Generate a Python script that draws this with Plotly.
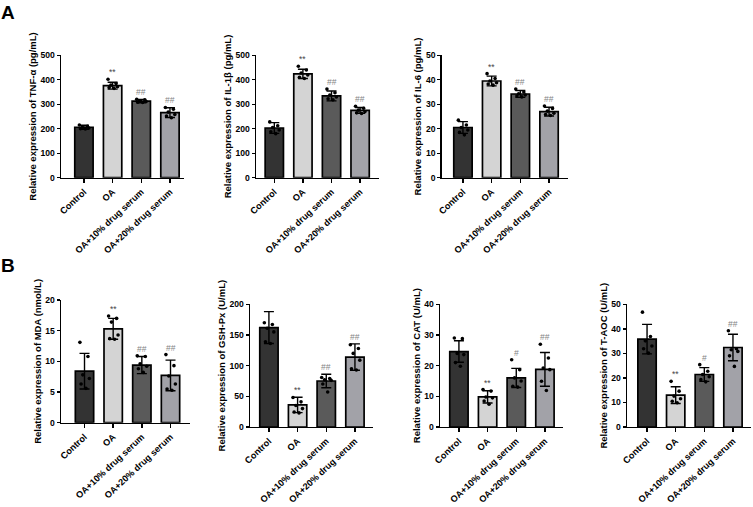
import plotly.graph_objects as go

# ---------------- data ----------------
categories = ["Control", "OA", "OA+10% drug serum", "OA+20% drug serum"]

tnf_mean = [206, 376, 313, 266]
tnf_sd = [8, 14, 7, 20]
tnf_pts = [[215, 210, 206, 203, 200, 199], [402, 385, 378, 372, 368, 365],
           [320, 318, 314, 311, 308, 307], [287, 280, 268, 258, 252, 245]]
tnf_sig = ["", "**", "##", "##"]

il1b_mean = [203, 424, 334, 275]
il1b_sd = [22, 19, 20, 12]
il1b_pts = [[228, 212, 205, 195, 188, 180], [455, 440, 428, 420, 410, 405],
            [362, 347, 338, 330, 322, 318], [292, 284, 276, 270, 265, 262]]
il1b_sig = ["", "**", "##", "##"]

il6_mean = [20.5, 39.5, 34.2, 27.0]
il6_sd = [2.4, 2.0, 1.4, 1.8]
il6_pts = [[23.5, 21.5, 20.5, 19.5, 18.5, 17.5], [42.5, 40.5, 39.5, 38.8, 38.3, 37.8],
           [36.2, 35.0, 34.3, 33.8, 33.4, 33.0], [29.3, 28.3, 27.2, 26.3, 25.8, 25.4]]
il6_sig = ["", "**", "##", "##"]

mda_mean = [8.4, 15.3, 9.4, 7.7]
mda_sd = [2.9, 1.7, 1.4, 2.5]
mda_pts = [[13.1, 10.8, 7.8, 7.2, 6.3, 5.6], [17.4, 17.0, 16.4, 14.3, 13.7, 13.6],
           [10.9, 10.8, 9.6, 9.2, 8.8, 8.2], [11.1, 9.3, 7.6, 6.3, 5.5, 5.3]]
mda_sig = ["", "**", "##", "##"]

gsh_mean = [162, 36, 75, 114]
gsh_sd = [26, 12.5, 11, 21.5]
gsh_pts = [[170, 167, 161, 155, 139, 136], [48, 41, 35, 30, 24.5, 23],
           [80.7, 79, 77, 76, 70, 57], [134, 128, 120, 109, 95, 93]]
gsh_sig = ["", "**", "##", "##"]

cat_mean = [24.6, 9.8, 16.0, 18.8]
cat_sd = [3.5, 2.0, 3.1, 5.5]
cat_pts = [[29, 28.8, 24, 23.6, 21, 19.8], [12.2, 11.7, 9.8, 9.5, 8.5, 7.4],
           [21.9, 18.7, 16, 15, 13.3, 13], [27, 22.5, 19.2, 18.7, 14.9, 11.9]]
cat_sig = ["", "**", "#", "##"]

taoc_mean = [35.8, 13.0, 21.4, 32.4]
taoc_sd = [6.0, 3.4, 2.8, 5.4]
taoc_pts = [[46.8, 36.9, 35.1, 33, 31.9, 30.1], [18.6, 14.6, 12.6, 11.5, 10.5, 9.9],
            [25.4, 22.7, 21.4, 20.5, 19.3, 18.4], [39.2, 31.9, 31.5, 30.8, 29, 24.7]]
taoc_sig = ["", "**", "#", "##"]

# ---------------- layout / style ----------------
W, H = 753, 507
FONT = "Arial, 'Liberation Sans', sans-serif"
bar_colors = ["#333333", "#d4d4d4", "#5a5a5a", "#a2a2a8"]
jitter = [-0.16, 0.12, -0.06, 0.17, -0.12, 0.05]

panels = [
    dict(mean=tnf_mean, sd=tnf_sd, pts=tnf_pts, sig=tnf_sig,
         title="Relative expression of TNF-α (pg/mL)", ymax=500, dtick=100,
         xpx=(61, 184), xr=(-0.8, 3.49), ypx=(55.3, 177.7)),
    dict(mean=il1b_mean, sd=il1b_sd, pts=il1b_pts, sig=il1b_sig,
         title="Relative expression of IL-1β (pg/mL)", ymax=500, dtick=100,
         xpx=(256, 379), xr=(-0.64, 3.66), ypx=(55.3, 177.7)),
    dict(mean=il6_mean, sd=il6_sd, pts=il6_pts, sig=il6_sig,
         title="Relative expression of IL-6 (pg/mL)", ymax=50, dtick=10,
         xpx=(441.7, 568), xr=(-0.74, 3.66), ypx=(55.3, 177.7)),
    dict(mean=mda_mean, sd=mda_sd, pts=mda_pts, sig=mda_sig,
         title="Relative expression of MDA (nmol/L)", ymax=20, dtick=5,
         xpx=(61, 190), xr=(-0.82, 3.68), ypx=(300, 422.7)),
    dict(mean=gsh_mean, sd=gsh_sd, pts=gsh_pts, sig=gsh_sig,
         title="Relative expression of GSH-Px (U/mL)", ymax=200, dtick=50,
         xpx=(250, 373), xr=(-0.66, 3.63), ypx=(304.3, 427)),
    dict(mean=cat_mean, sd=cat_sd, pts=cat_pts, sig=cat_sig,
         title="Relative expression of CAT (U/mL)", ymax=40, dtick=10,
         xpx=(440, 563), xr=(-0.66, 3.63), ypx=(304.3, 427)),
    dict(mean=taoc_mean, sd=taoc_sd, pts=taoc_pts, sig=taoc_sig,
         title="Relative expression of T-AOC (U/mL)", ymax=50, dtick=10,
         xpx=(627, 751), xr=(-0.7, 3.63), ypx=(304.3, 427)),
]

fig = go.Figure()
annotations = []
layout = dict(
    width=W, height=H, margin=dict(l=0, r=0, t=0, b=0, autoexpand=False),
    paper_bgcolor="white", plot_bgcolor="white", showlegend=False,
    font=dict(family=FONT, color="black", size=9),
)

xpos = list(range(len(categories)))

for i, p in enumerate(panels, start=1):
    xa = "x" if i == 1 else f"x{i}"
    ya = "y" if i == 1 else f"y{i}"
    xkey = "xaxis" if i == 1 else f"xaxis{i}"
    ykey = "yaxis" if i == 1 else f"yaxis{i}"

    fig.add_trace(go.Bar(
        x=xpos, y=p["mean"], width=0.64,
        marker=dict(color=bar_colors, line=dict(color="black", width=1.7)),
        error_y=dict(type="data", array=p["sd"], visible=True,
                     color="black", thickness=1.4, width=5),
        xaxis=xa, yaxis=ya, hoverinfo="skip",
    ))
    dx, dy = [], []
    for gi, vals in enumerate(p["pts"]):
        for k, v in enumerate(vals):
            dx.append(gi + jitter[k % len(jitter)])
            dy.append(v)
    fig.add_trace(go.Scatter(
        x=dx, y=dy, mode="markers",
        marker=dict(color="black", size=3.6),
        xaxis=xa, yaxis=ya, hoverinfo="skip",
    ))

    x0, x1 = p["xpx"]
    yt, yb = p["ypx"]
    layout[xkey] = dict(
        domain=[x0 / W, x1 / W], anchor=ya, range=list(p["xr"]),
        showline=True, linecolor="black", linewidth=1.4,
        ticks="outside", ticklen=4, tickwidth=1.4, tickcolor="black",
        tickvals=xpos, ticktext=categories, tickangle=-43,
        tickfont=dict(family=FONT, size=9.1, weight="bold"),
        showgrid=False, zeroline=False, fixedrange=True, automargin=False,
    )
    layout[ykey] = dict(
        domain=[1 - yb / H, 1 - yt / H], anchor=xa, range=[0, p["ymax"]],
        tick0=0, dtick=p["dtick"],
        showline=True, linecolor="black", linewidth=1.4,
        ticks="outside", ticklen=3, tickwidth=1.4, tickcolor="black",
        tickfont=dict(family=FONT, size=8.6, weight="bold"),
        title=dict(text=p["title"], standoff=2,
                   font=dict(family=FONT, size=9.5, weight="bold", color="black")),
        showgrid=False, zeroline=False, fixedrange=True, automargin=False,
    )
    for gi, s in enumerate(p["sig"]):
        if not s:
            continue
        top = max(p["mean"][gi] + p["sd"][gi], max(p["pts"][gi]))
        annotations.append(dict(
            text=s, showarrow=False, xref=xa, yref=ya,
            x=gi, y=top, xanchor="center", yanchor="bottom", yshift=0,
            font=dict(family=FONT, size=8.5,
                      color="#444444" if s.startswith("*") else "#858585"),
        ))

annotations.append(dict(text="A", showarrow=False, xref="paper", yref="paper",
                        x=8.0 / W, y=1 - 12.5 / H, xanchor="center", yanchor="middle",
                        font=dict(family=FONT, size=19, weight="bold", color="black")))
annotations.append(dict(text="B", showarrow=False, xref="paper", yref="paper",
                        x=8.0 / W, y=1 - 265.5 / H, xanchor="center", yanchor="middle",
                        font=dict(family=FONT, size=19, weight="bold", color="black")))

layout["annotations"] = annotations
fig.update_layout(**layout)
fig.write_html(
    "out.html",
    config={"displayModeBar": False, "staticPlot": True},
    post_script="document.body.style.margin='0';document.body.style.padding='0';"
                "document.body.style.overflow='hidden';",
)
